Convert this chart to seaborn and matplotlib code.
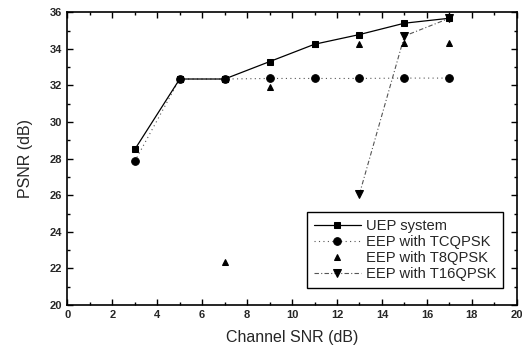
import matplotlib
matplotlib.use("Agg")
import matplotlib.pyplot as plt
import seaborn as sns
import numpy as np
from matplotlib.ticker import MultipleLocator

sns.set_style("ticks")
plt.rcParams['font.family'] = ['Liberation Sans', 'DejaVu Sans']

uep_x = [3, 5, 7, 9, 11, 13, 15, 17]
uep_y = [28.5, 32.35, 32.35, 33.3, 34.25, 34.78, 35.4, 35.67]

tcq_x = [3, 5, 7, 9, 11, 13, 15, 17]
tcq_y = [27.85, 32.35, 32.35, 32.38, 32.38, 32.38, 32.4, 32.4]

t8_x = [7, 9, 11, 13, 15, 17]
t8_y = [22.35, 31.9, 34.25, 34.27, 34.3, 34.3]

t16_x = [13, 15, 17]
t16_y = [26.07, 34.7, 35.67]

fig = plt.figure(figsize=(5.22, 3.49), dpi=100)
ax = fig.add_axes([0.129, 0.126, 0.861, 0.839])

sns.lineplot(x=tcq_x, y=tcq_y, ax=ax, color='#555555', linestyle=(0, (1, 3)), linewidth=0.8,
             marker='o', markersize=5.5, markerfacecolor='black', markeredgecolor='black',
             label='EEP with TCQPSK')
sns.lineplot(x=t16_x, y=t16_y, ax=ax, color='#555555', linestyle=(0, (4, 2, 1, 2)), linewidth=0.8,
             marker='v', markersize=5.5, markerfacecolor='black', markeredgecolor='black',
             label='EEP with T16QPSK')
sns.lineplot(x=t8_x, y=t8_y, ax=ax, color='black', linestyle='none', marker='^', markersize=4.5,
             markerfacecolor='black', markeredgecolor='black', label='EEP with T8QPSK')
sns.lineplot(x=uep_x, y=uep_y, ax=ax, color='black', linestyle='-', linewidth=0.9,
             marker='s', markersize=4.8, markerfacecolor='black', markeredgecolor='black',
             label='UEP system')

ax.set_xlim(0, 20)
ax.set_ylim(20, 36)
ax.xaxis.set_major_locator(MultipleLocator(2))
ax.xaxis.set_minor_locator(MultipleLocator(1))
ax.yaxis.set_major_locator(MultipleLocator(2))
ax.yaxis.set_minor_locator(MultipleLocator(1))
ax.tick_params(which='both', direction='in', top=True, right=True, labelsize=8, width=1, color='black')
ax.tick_params(which='major', length=4)
ax.tick_params(which='minor', length=2)
for lab in ax.get_xticklabels() + ax.get_yticklabels():
    lab.set_fontweight('bold')
for s in ax.spines.values():
    s.set_linewidth(1.2)
    s.set_color('black')

ax.set_xlabel('Channel SNR (dB)', fontsize=11.5, labelpad=7)
ax.set_ylabel('PSNR (dB)', fontsize=11.5, labelpad=12)

handles, labels = ax.get_legend_handles_labels()
order = ['UEP system', 'EEP with TCQPSK', 'EEP with T8QPSK', 'EEP with T16QPSK']
hmap = dict(zip(labels, handles))
leg = ax.legend([hmap[k] for k in order], order, loc='lower right', fontsize=10.6,
                frameon=True, fancybox=False, edgecolor='black', framealpha=1,
                borderpad=0.45, labelspacing=0.15, handlelength=3.2, handletextpad=0.35,
                borderaxespad=0.0, bbox_to_anchor=(0.9695, 0.058))
leg.get_frame().set_linewidth(1.0)

fig.savefig('out.png', dpi=100)
